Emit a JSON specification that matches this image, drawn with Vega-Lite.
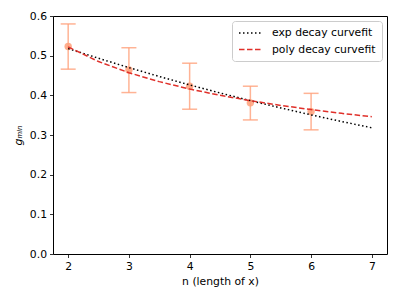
{
  "$schema": "https://vega.github.io/schema/vega-lite/v6.json",
  "autosize": {"type": "none"},
  "width": 334,
  "height": 238,
  "padding": {"left": 53, "top": 16, "right": 11, "bottom": 46},
  "background": "white",
  "config": {
    "font": "DejaVu Sans",
    "view": {"stroke": "black", "strokeWidth": 1},
    "axis": {
      "grid": false,
      "domain": false,
      "tickColor": "black",
      "tickSize": 3.5,
      "tickWidth": 0.8,
      "labelFont": "DejaVu Sans",
      "labelFontSize": 10.8,
      "labelColor": "black",
      "titleFont": "DejaVu Sans",
      "titleFontSize": 10.8,
      "titleFontWeight": "normal",
      "titleColor": "black",
      "labelPadding": 3
    },
    "legend": {
      "title": null,
      "orient": "top-right",
      "offset": 5,
      "symbolType": "M-2.3,0H2.3",
      "symbolSize": 100,
      "symbolOffset": 6.5,
      "symbolStrokeWidth": 1.5,
      "labelFontSize": 10.8,
      "labelFont": "DejaVu Sans",
      "labelColor": "black",
      "labelOffset": 15.5,
      "strokeColor": "#cccccc",
      "fillColor": "white",
      "padding": 6,
      "cornerRadius": 3,
      "rowPadding": 5.5
    }
  },
  "datasets": {
    "pts": [
      {"n": 2, "g": 0.523, "lo": 0.466, "hi": 0.580},
      {"n": 3, "g": 0.464, "lo": 0.407, "hi": 0.520},
      {"n": 4, "g": 0.423, "lo": 0.365, "hi": 0.481},
      {"n": 5, "g": 0.381, "lo": 0.338, "hi": 0.423},
      {"n": 6, "g": 0.359, "lo": 0.313, "hi": 0.405}
    ],
    "fits": [
      {"n": 2, "g": 0.518, "fit": "exp decay curvefit"},
      {"n": 2.5, "g": 0.4934, "fit": "exp decay curvefit"},
      {"n": 3, "g": 0.4699, "fit": "exp decay curvefit"},
      {"n": 3.5, "g": 0.4475, "fit": "exp decay curvefit"},
      {"n": 4, "g": 0.4262, "fit": "exp decay curvefit"},
      {"n": 4.5, "g": 0.4060, "fit": "exp decay curvefit"},
      {"n": 5, "g": 0.3866, "fit": "exp decay curvefit"},
      {"n": 5.5, "g": 0.3683, "fit": "exp decay curvefit"},
      {"n": 6, "g": 0.3507, "fit": "exp decay curvefit"},
      {"n": 6.5, "g": 0.3341, "fit": "exp decay curvefit"},
      {"n": 7, "g": 0.3182, "fit": "exp decay curvefit"},
      {"n": 2, "g": 0.522, "fit": "poly decay curvefit"},
      {"n": 2.5, "g": 0.4852, "fit": "poly decay curvefit"},
      {"n": 3, "g": 0.4570, "fit": "poly decay curvefit"},
      {"n": 3.5, "g": 0.4345, "fit": "poly decay curvefit"},
      {"n": 4, "g": 0.4158, "fit": "poly decay curvefit"},
      {"n": 4.5, "g": 0.4001, "fit": "poly decay curvefit"},
      {"n": 5, "g": 0.3865, "fit": "poly decay curvefit"},
      {"n": 5.5, "g": 0.3746, "fit": "poly decay curvefit"},
      {"n": 6, "g": 0.3640, "fit": "poly decay curvefit"},
      {"n": 6.5, "g": 0.3546, "fit": "poly decay curvefit"},
      {"n": 7, "g": 0.3461, "fit": "poly decay curvefit"}
    ]
  },
  "encoding": {
    "x": {
      "field": "n", "type": "quantitative",
      "scale": {"domain": [1.75, 7.25], "nice": false, "zero": false},
      "axis": {"values": [2, 3, 4, 5, 6, 7], "format": "d", "title": "n (length of x)", "titlePadding": 4}
    }
  },
  "layer": [
    {
      "data": {"name": "pts"},
      "mark": {"type": "rule", "color": "#FFA07A", "opacity": 0.8, "strokeWidth": 1.5},
      "encoding": {
        "y": {"field": "lo", "type": "quantitative",
          "scale": {"domain": [0, 0.6], "nice": false},
          "axis": {"values": [0, 0.1, 0.2, 0.3, 0.4, 0.5, 0.6], "format": ".1f", "title": "gₘᵢₙ", "titleFontStyle": "italic", "titlePadding": 6}},
        "y2": {"field": "hi"}
      }
    },
    {
      "data": {"name": "pts"},
      "mark": {"type": "tick", "orient": "horizontal", "color": "#FFA07A", "opacity": 0.8, "size": 15, "thickness": 1.5},
      "encoding": {"y": {"field": "lo", "type": "quantitative",
          "axis": {"values": [0, 0.1, 0.2, 0.3, 0.4, 0.5, 0.6], "format": ".1f", "title": "gₘᵢₙ", "titleFontStyle": "italic", "titlePadding": 6}}}
    },
    {
      "data": {"name": "pts"},
      "mark": {"type": "tick", "orient": "horizontal", "color": "#FFA07A", "opacity": 0.8, "size": 15, "thickness": 1.5},
      "encoding": {"y": {"field": "hi", "type": "quantitative",
          "axis": {"values": [0, 0.1, 0.2, 0.3, 0.4, 0.5, 0.6], "format": ".1f", "title": "gₘᵢₙ", "titleFontStyle": "italic", "titlePadding": 6}}}
    },
    {
      "data": {"name": "pts"},
      "mark": {"type": "point", "filled": true, "shape": "circle", "color": "#FFA07A", "opacity": 0.85, "size": 55},
      "encoding": {"y": {"field": "g", "type": "quantitative",
          "axis": {"values": [0, 0.1, 0.2, 0.3, 0.4, 0.5, 0.6], "format": ".1f", "title": "gₘᵢₙ", "titleFontStyle": "italic", "titlePadding": 6}}}
    },
    {
      "data": {"name": "fits"},
      "mark": {"type": "line", "strokeWidth": 1.5},
      "encoding": {
        "y": {"field": "g", "type": "quantitative",
          "axis": {"values": [0, 0.1, 0.2, 0.3, 0.4, 0.5, 0.6], "format": ".1f", "title": "gₘᵢₙ", "titleFontStyle": "italic", "titlePadding": 6}},
        "color": {
          "field": "fit", "type": "nominal",
          "scale": {"domain": ["exp decay curvefit", "poly decay curvefit"], "range": ["black", "#e0302a"]},
          "legend": {"title": null}
        },
        "strokeDash": {
          "field": "fit", "type": "nominal",
          "scale": {"domain": ["exp decay curvefit", "poly decay curvefit"], "range": [[1.5, 2.5], [5.5, 2.5]]},
          "legend": {"title": null}
        }
      }
    }
  ]
}
